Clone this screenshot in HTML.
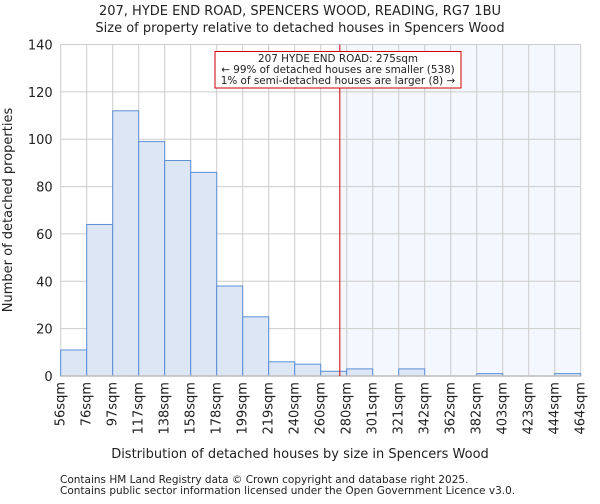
<!DOCTYPE html>
<html><head><meta charset="utf-8"><style>
body{margin:0;background:#fff;font-family:"DejaVu Sans","Liberation Sans",sans-serif;}
svg text{font-family:"DejaVu Sans","Liberation Sans",sans-serif;fill:#222;}
</style></head><body>
<svg id="c" width="600" height="500"></svg>
<script>
const categories=["56sqm","76sqm","97sqm","117sqm","138sqm","158sqm","178sqm","199sqm","219sqm","240sqm","260sqm","280sqm","301sqm","321sqm","342sqm","362sqm","382sqm","403sqm","423sqm","444sqm","464sqm"];
const counts=[11,64,112,99,91,86,38,25,6,5,2,3,0,3,0,0,1,0,0,1];
const yTicks=[0,20,40,60,80,100,120,140];
const binStart=56, binWidth=20.4, propertySize=275;
const svg=document.getElementById('c');
const NS='http://www.w3.org/2000/svg';
const L=60.7,R=580.7,T=44.5,B=376;
const nb=counts.length;
const xs=i=>L+(R-L)*i/nb;
const ys=v=>B-(B-T)*v/140;
const xv=v=>L+(v-binStart)/binWidth*(R-L)/nb;
function mk(t,a,txt){const e=document.createElementNS(NS,t);for(const k in a)e.setAttribute(k,a[k]);if(txt!==undefined)e.textContent=txt;svg.appendChild(e);return e;}
let e;
e=mk('rect',{x:xv(propertySize),y:T,width:R-xv(propertySize),height:B-T,fill:'#f4f7fd'});


yTicks.forEach(v=>{e=mk('line',{x1:L,x2:R,y1:ys(v),y2:ys(v),stroke:'#cccccc','stroke-width':1});


e=mk('text',{x:L-8,y:ys(v)+5,'text-anchor':'end','font-size':13},v);

});
categories.forEach((c,i)=>{e=mk('line',{x1:xs(i),x2:xs(i),y1:T,y2:B,stroke:'#cccccc','stroke-width':1});


const x=xs(i)+4;
e=mk('text',{x:x,y:382,'text-anchor':'end','font-size':13,transform:`rotate(-90 ${x} 382)`},c);

});
counts.forEach((v,i)=>{if(v<=0)return;e=mk('rect',{x:xs(i),y:ys(v),width:xs(i+1)-xs(i),height:B-ys(v),fill:'#dce6f4',stroke:'#5b8fd6','stroke-width':1});

});
e=mk('line',{x1:L,x2:R,y1:B,y2:B,stroke:'#bbbbbb','stroke-width':1.5});


e=mk('line',{x1:xv(propertySize),x2:xv(propertySize),y1:T,y2:B,stroke:'#cc0000','stroke-width':1});


e=mk('rect',{x:215,y:51.5,width:246,height:36.5,fill:'#fff',stroke:'#cc0000','stroke-width':1});


[["207 HYDE END ROAD: 275sqm",62],["← 99% of detached houses are smaller (538)",73],["1% of semi-detached houses are larger (8) →",84]].forEach(([t,y])=>{
e=mk('text',{x:338,y:y,'text-anchor':'middle','font-size':10.4},t);

});
e=mk('text',{x:300,y:15,'text-anchor':'middle','font-size':13},'207, HYDE END ROAD, SPENCERS WOOD, READING, RG7 1BU');


e=mk('text',{x:300,y:32,'text-anchor':'middle','font-size':13},'Size of property relative to detached houses in Spencers Wood');


e=mk('text',{x:300,y:458,'text-anchor':'middle','font-size':13},'Distribution of detached houses by size in Spencers Wood');


e=mk('text',{x:12,y:210,'text-anchor':'middle','font-size':13,transform:'rotate(-90 12 210)'},'Number of detached properties');


e=mk('text',{x:60,y:483,'font-size':10.5,fill:'#444'},'Contains HM Land Registry data © Crown copyright and database right 2025.');


e=mk('text',{x:60,y:494,'font-size':10.5,fill:'#444'},'Contains public sector information licensed under the Open Government Licence v3.0.');


</script>
</body></html>
